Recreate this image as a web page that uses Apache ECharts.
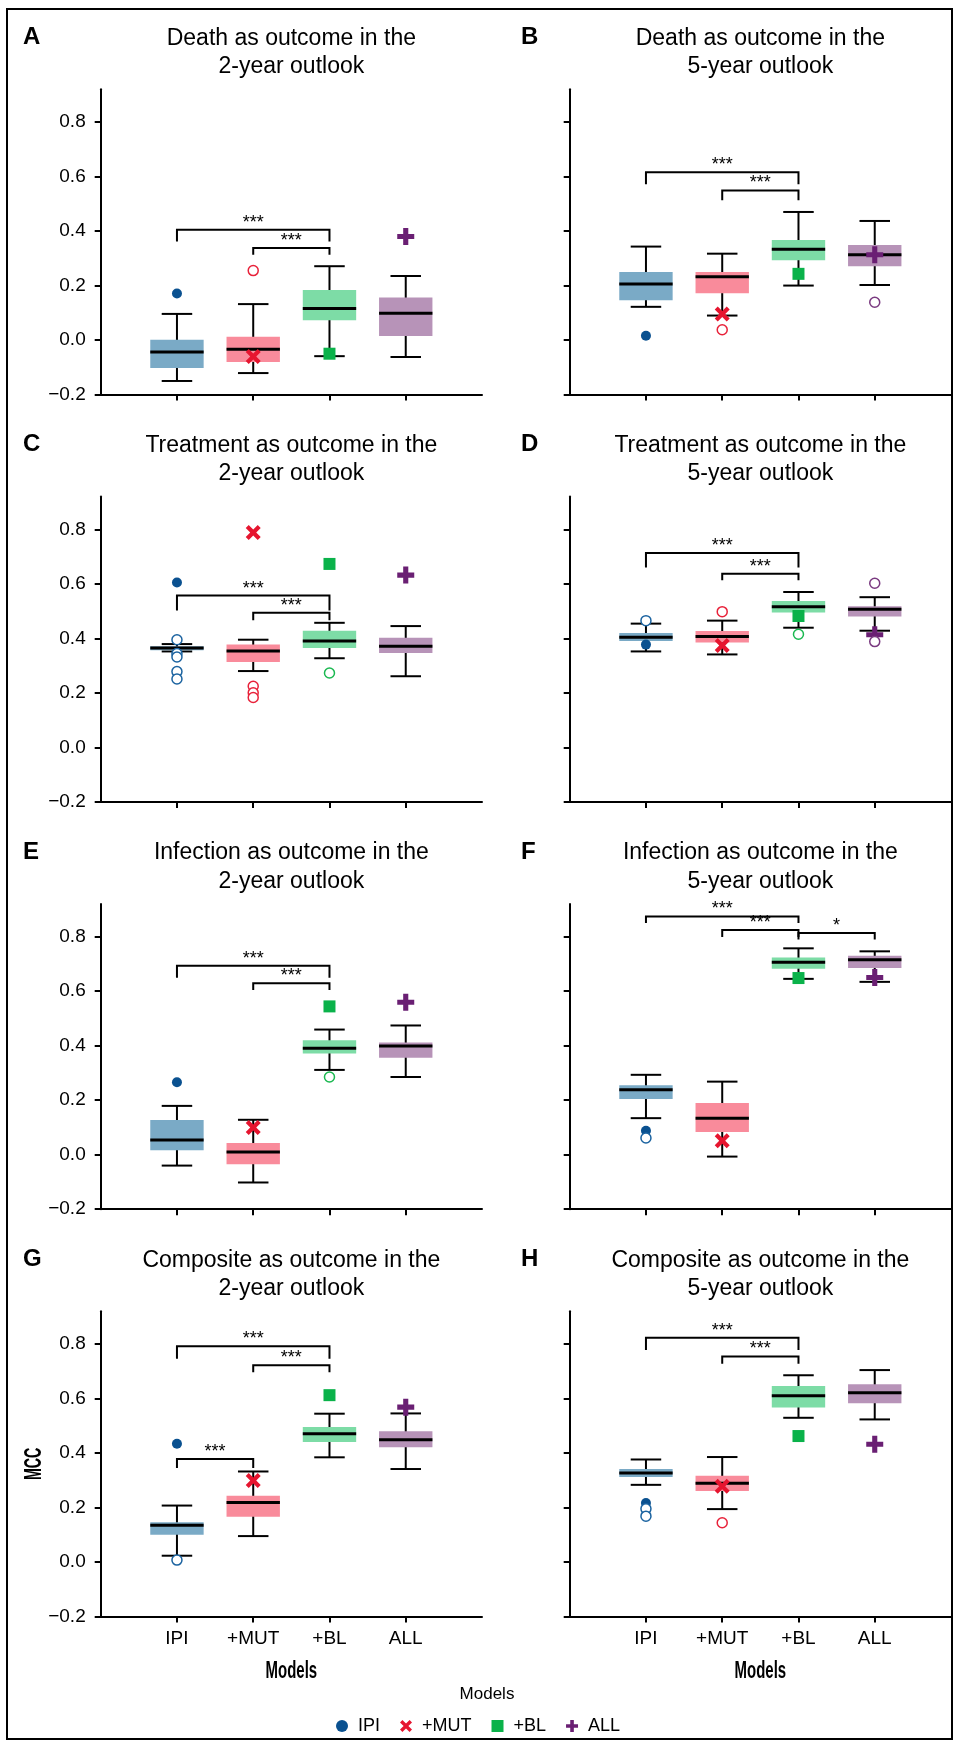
<!DOCTYPE html>
<html>
<head>
<meta charset="utf-8">
<script src="https://cdn.jsdelivr.net/npm/echarts@6/dist/echarts.min.js"></script>
<style>
  html, body { margin: 0; padding: 0; background: #fff; }
  #chart { width: 954px; height: 1741px; }
</style>
</head>
<body>
<div id="chart"></div>
<script>
// models on the x axis and y ticks
var models = ['IPI', '+MUT', '+BL', 'ALL'];
var yTicks = [-0.2, 0, 0.2, 0.4, 0.6, 0.8];

// panel letters and titles (line 1, line 2)
var letters = ['A', 'B', 'C', 'D', 'E', 'F', 'G', 'H'];
var titles = [
  ['Death as outcome in the', '2-year outlook'],
  ['Death as outcome in the', '5-year outlook'],
  ['Treatment as outcome in the', '2-year outlook'],
  ['Treatment as outcome in the', '5-year outlook'],
  ['Infection as outcome in the', '2-year outlook'],
  ['Infection as outcome in the', '5-year outlook'],
  ['Composite as outcome in the', '2-year outlook'],
  ['Composite as outcome in the', '5-year outlook']
];
var xAxisTitle = 'Models';
var yAxisTitle = 'MCC';
var legendTitle = 'Models';

// box stats per model: [low whisker, q1, median, q3, high whisker]
var boxA = [[-0.150, -0.102, -0.044, 0.001, 0.096], [-0.121, -0.080, -0.034, 0.012, 0.132], [-0.059, 0.073, 0.116, 0.184, 0.271], [-0.062, 0.015, 0.098, 0.156, 0.235]];
var boxB = [[0.122, 0.146, 0.206, 0.250, 0.343], [0.090, 0.172, 0.232, 0.250, 0.317], [0.200, 0.293, 0.333, 0.367, 0.470], [0.202, 0.271, 0.313, 0.349, 0.437]];
var boxC = [[0.352, 0.356, 0.365, 0.371, 0.379], [0.280, 0.313, 0.354, 0.377, 0.395], [0.327, 0.365, 0.390, 0.428, 0.457], [0.261, 0.346, 0.371, 0.402, 0.445]];
var boxD = [[0.352, 0.390, 0.404, 0.420, 0.454], [0.341, 0.385, 0.407, 0.427, 0.465], [0.439, 0.495, 0.516, 0.537, 0.570], [0.428, 0.480, 0.507, 0.518, 0.551]];
var boxE = [[-0.040, 0.016, 0.054, 0.127, 0.179], [-0.102, -0.035, 0.010, 0.043, 0.128], [0.311, 0.371, 0.390, 0.420, 0.459], [0.285, 0.356, 0.399, 0.412, 0.474]];
var boxF = [[0.134, 0.204, 0.238, 0.255, 0.293], [-0.007, 0.083, 0.134, 0.190, 0.268], [0.645, 0.682, 0.706, 0.723, 0.757], [0.634, 0.685, 0.715, 0.730, 0.746]];
var boxG = [[0.023, 0.100, 0.135, 0.146, 0.207], [0.095, 0.166, 0.218, 0.243, 0.332], [0.384, 0.440, 0.470, 0.495, 0.544], [0.341, 0.421, 0.448, 0.480, 0.545]];
var boxH = [[0.283, 0.312, 0.326, 0.341, 0.376], [0.194, 0.260, 0.289, 0.316, 0.385], [0.529, 0.567, 0.610, 0.646, 0.685], [0.523, 0.582, 0.621, 0.652, 0.704]];

// score of the single model fit (marker), one per model
var pointsA = [0.171, -0.060, -0.050, 0.380];
var pointsB = [0.016, 0.096, 0.243, 0.313];
var pointsC = [0.605, 0.788, 0.673, 0.632];
var pointsD = [0.377, 0.374, 0.482, 0.413];
var pointsE = [0.266, 0.100, 0.544, 0.559];
var pointsF = [0.088, 0.051, 0.648, 0.650];
var pointsG = [0.434, 0.299, 0.612, 0.568];
var pointsH = [0.216, 0.278, 0.462, 0.432];

// outliers: [model index, value]
var fliersA = [[1, 0.255]];
var fliersB = [[1, 0.038], [3, 0.139]];
var fliersC = [[0, 0.395], [0, 0.344], [0, 0.332], [0, 0.278], [0, 0.251], [1, 0.224], [1, 0.200], [1, 0.183], [2, 0.273]];
var fliersD = [[0, 0.465], [1, 0.498], [2, 0.415], [3, 0.602], [3, 0.388]];
var fliersE = [[2, 0.285]];
var fliersF = [[0, 0.061]];
var fliersG = [[0, 0.007]];
var fliersH = [[0, 0.195], [0, 0.168], [1, 0.144]];

// significance brackets: [from, to, bar level, leg end, label]
var bracketsA = [[0, 2, 0.405, 0.362, '***'], [1, 2, 0.338, 0.313, '***']];
var bracketsB = [[0, 2, 0.616, 0.572, '***'], [1, 2, 0.549, 0.513, '***']];
var bracketsC = [[0, 2, 0.557, 0.502, '***'], [1, 2, 0.494, 0.466, '***']];
var bracketsD = [[0, 2, 0.713, 0.660, '***'], [1, 2, 0.637, 0.613, '***']];
var bracketsE = [[0, 2, 0.693, 0.649, '***'], [1, 2, 0.629, 0.604, '***']];
var bracketsF = [[0, 2, 0.874, 0.850, '***'], [1, 2, 0.824, 0.799, '***'], [2, 3, 0.813, 0.789, '*']];
var bracketsG = [[0, 2, 0.791, 0.746, '***'], [1, 2, 0.722, 0.696, '***'], [0, 1, 0.378, 0.345, '***']];
var bracketsH = [[0, 2, 0.823, 0.778, '***'], [1, 2, 0.754, 0.727, '***']];

var boxes = [boxA, boxB, boxC, boxD, boxE, boxF, boxG, boxH];
var points = [pointsA, pointsB, pointsC, pointsD, pointsE, pointsF, pointsG, pointsH];
var fliers = [fliersA, fliersB, fliersC, fliersD, fliersE, fliersF, fliersG, fliersH];
var brackets = [bracketsA, bracketsB, bracketsC, bracketsD, bracketsE, bracketsF, bracketsG, bracketsH];

// styling
var FONT = '"Liberation Sans", Arial, Helvetica, sans-serif';
var boxFills = ['#7aaac6', '#f98b9b', '#7ddca6', '#b793b8'];
var markColors = ['#0a5190', '#e6152f', '#0ab24a', '#6a1f73'];
var flierColors = ['#1b63a0', '#e8223a', '#1ab850', '#7a3a80'];
var xPath = 'path://M2,0 L5,3 L8,0 L10,2 L7,5 L10,8 L8,10 L5,7 L2,10 L0,8 L3,5 L0,2 Z';
var plusPath = 'path://M3.5,0 L6.5,0 L6.5,3.5 L10,3.5 L10,6.5 L6.5,6.5 L6.5,10 L3.5,10 L3.5,6.5 L0,6.5 L0,3.5 L3.5,3.5 Z';
var squarePath = 'path://M0,0 L10,0 L10,10 L0,10 Z';
var markSymbols = ['circle', xPath, squarePath, plusPath];
var markSizes = [10, 15, 12, 17];

var colLeft = [100.7, 569.7];
var gridW = 381.3;
var rowTop = [89.3, 496.6, 903.9, 1311.2];
var gridH = 305.3;
var rowStep = 407.3;

var chart = echarts.init(document.getElementById('chart'), null, { renderer: 'canvas' });

function yFmt(v) {
  var s = Math.abs(v).toFixed(1);
  return v < -1e-9 ? '\u2212' + s : s;
}

function boxRender(params, api) {
  var x = api.value(0);
  var lo = api.coord([x, api.value(1)]);
  var q1 = api.coord([x, api.value(2)]);
  var med = api.coord([x, api.value(3)]);
  var q3 = api.coord([x, api.value(4)]);
  var hi = api.coord([x, api.value(5)]);
  var xl = api.coord([x - 0.35, 0])[0], xr = api.coord([x + 0.35, 0])[0];
  var cl = api.coord([x - 0.2, 0])[0], cr = api.coord([x + 0.2, 0])[0];
  var cx = lo[0];
  var ls = { stroke: '#000', lineWidth: 2 };
  return {
    type: 'group',
    children: [
      { type: 'line', shape: { x1: cx, y1: lo[1], x2: cx, y2: hi[1] }, style: ls },
      { type: 'line', shape: { x1: cl, y1: lo[1], x2: cr, y2: lo[1] }, style: ls },
      { type: 'line', shape: { x1: cl, y1: hi[1], x2: cr, y2: hi[1] }, style: ls },
      { type: 'rect', shape: { x: xl, y: q3[1], width: xr - xl, height: q1[1] - q3[1] }, style: { fill: boxFills[x] } },
      { type: 'line', shape: { x1: xl, y1: med[1], x2: xr, y2: med[1] }, style: { stroke: '#000', lineWidth: 3 } }
    ]
  };
}

function makeBracketRender(list) {
  return function (params, api) {
    var b = list[params.dataIndex];
    var p1 = api.coord([b[0], b[3]]);
    var p2 = api.coord([b[0], b[2]]);
    var p3 = api.coord([b[1], b[2]]);
    var p4 = api.coord([b[1], b[3]]);
    return {
      type: 'group',
      children: [
        { type: 'polyline', shape: { points: [p1, p2, p3, p4] }, style: { stroke: '#000', lineWidth: 2, fill: 'none' } },
        { type: 'text', style: { text: b[4], x: (p2[0] + p3[0]) / 2, y: p2[1] - 7, align: 'center', verticalAlign: 'middle', font: '18px ' + FONT, fill: '#000' } }
      ]
    };
  };
}

var grids = [], xAxes = [], yAxes = [], series = [], graphics = [];

for (var p = 0; p < 8; p++) {
  var col = p % 2, row = Math.floor(p / 2);
  var bottomRow = row === 3;
  grids.push({ left: colLeft[col], top: rowTop[row], width: gridW, height: gridH, containLabel: false, outerBoundsMode: 'none' });
  xAxes.push({
    gridIndex: p, type: 'value', min: -1, max: 4,
    axisLine: { onZero: false, lineStyle: { color: '#000', width: 2 } },
    axisTick: { show: true, length: 6, lineStyle: { color: '#000', width: 2 }, customValues: [0, 1, 2, 3] },
    axisLabel: {
      show: bottomRow, customValues: [0, 1, 2, 3], margin: 13,
      formatter: function (v) { return models[Math.round(v)]; },
      fontSize: 19, color: '#000', fontFamily: FONT
    },
    splitLine: { show: false }
  });
  yAxes.push({
    gridIndex: p, type: 'value', min: -0.2, max: 0.92,
    axisLine: { show: true, onZero: false, lineStyle: { color: '#000', width: 2 } },
    axisTick: { show: true, length: 6, lineStyle: { color: '#000', width: 2 }, customValues: yTicks },
    axisLabel: { show: col === 0, customValues: yTicks, formatter: yFmt, margin: 15, fontSize: 19, color: '#000', fontFamily: FONT },
    splitLine: { show: false }
  });

  series.push({
    type: 'custom', name: 'box' + p, xAxisIndex: p, yAxisIndex: p, z: 2, silent: true,
    renderItem: boxRender,
    encode: { x: 0, y: [1, 2, 3, 4, 5] },
    data: boxes[p].map(function (b, i) { return [i].concat(b); })
  });
  series.push({
    type: 'custom', name: 'sig' + p, xAxisIndex: p, yAxisIndex: p, z: 2, silent: true,
    renderItem: makeBracketRender(brackets[p]),
    encode: { x: [0, 1], y: [2, 3] },
    data: brackets[p].map(function (b) { return [b[0], b[1], b[2], b[3]]; })
  });
  for (var m = 0; m < 4; m++) {
    series.push({
      type: 'scatter', name: models[m], xAxisIndex: p, yAxisIndex: p, z: 3, silent: true,
      symbol: markSymbols[m], symbolSize: markSizes[m],
      itemStyle: { color: markColors[m], opacity: 1 },
      data: [[m, points[p][m]]]
    });
  }
  series.push({
    type: 'scatter', name: 'outliers' + p, xAxisIndex: p, yAxisIndex: p, z: 4, silent: true,
    symbol: 'circle', symbolSize: 10,
    data: fliers[p].map(function (f) {
      return { value: [f[0], f[1]], itemStyle: { color: '#fff', borderColor: flierColors[f[0]], borderWidth: 1.5, opacity: 1 } };
    })
  });

  var cxTitle = colLeft[col] + gridW / 2;
  var ty = 38.3 + row * rowStep;
  graphics.push({ type: 'text', style: { text: titles[p][0], x: cxTitle, y: ty, align: 'center', verticalAlign: 'middle', font: '23px ' + FONT, fill: '#000' } });
  graphics.push({ type: 'text', style: { text: titles[p][1], x: cxTitle, y: ty + 28.4, align: 'center', verticalAlign: 'middle', font: '23px ' + FONT, fill: '#000' } });
  graphics.push({ type: 'text', style: { text: letters[p], x: col === 0 ? 23 : 521, y: 37.5 + row * rowStep, align: 'left', verticalAlign: 'middle', font: 'bold 24px ' + FONT, fill: '#000' } });

  // condensed axis titles (the figure uses a narrow face)
  if (bottomRow) {
    graphics.push({ type: 'text', x: cxTitle, y: 1671.7, scaleX: 0.65, style: { text: xAxisTitle, align: 'center', verticalAlign: 'middle', font: 'bold 23px ' + FONT, fill: '#000' } });
  }
  if (p === 6) {
    graphics.push({ type: 'text', x: 35, y: rowTop[row] + gridH / 2, rotation: Math.PI / 2, scaleX: 0.62, style: { text: yAxisTitle, align: 'center', verticalAlign: 'middle', font: 'bold 23px ' + FONT, fill: '#000' } });
  }
}

graphics.push({ type: 'rect', shape: { x: 7, y: 9, width: 945, height: 1730 }, style: { fill: 'none', stroke: '#000', lineWidth: 2 } });
graphics.push({ type: 'text', style: { text: legendTitle, x: 487, y: 1694, align: 'center', verticalAlign: 'middle', font: '17px ' + FONT, fill: '#000' } });

chart.setOption({
  animation: false,
  backgroundColor: '#fff',
  grid: grids,
  xAxis: xAxes,
  yAxis: yAxes,
  legend: {
    data: models.map(function (n, i) { return { name: n, icon: markSymbols[i] }; }),
    left: 331, top: 1712, itemWidth: 22, itemHeight: 12, itemGap: 20,
    selectedMode: false,
    textStyle: { fontSize: 18, color: '#000', fontFamily: FONT }
  },
  graphic: graphics,
  series: series
});
</script>
</body>
</html>
